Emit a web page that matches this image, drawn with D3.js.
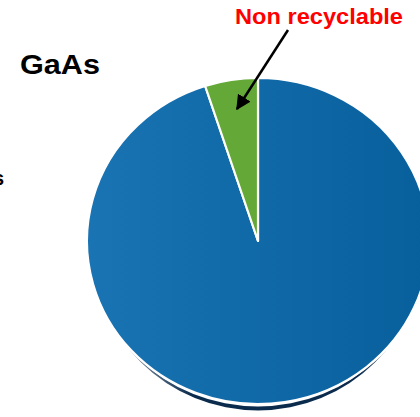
<!DOCTYPE html>
<html><head><meta charset="utf-8">
<script src="https://cdn.jsdelivr.net/npm/d3@7"></script>
<style>html,body{margin:0;padding:0;background:#fff;overflow:hidden}</style>
</head><body>
<script>
const categories = ["Recyclable", "Non recyclable"];
const values = [95, 5];
const colors = ["url(#blueGrad)", "#64a937"];
const title = "GaAs";
const annotation = "Non recyclable";

const W = 420, H = 417;
const cx = 258, cy = 241, rx = 171, ry = 163;
const svg = d3.select("body").append("svg").attr("width", W).attr("height", H);
const defs = svg.append("defs");
const g1 = defs.append("linearGradient").attr("id", "blueGrad")
  .attr("gradientUnits", "userSpaceOnUse")
  .attr("x1", -rx).attr("y1", 0).attr("x2", rx).attr("y2", 0);
g1.append("stop").attr("offset", "0%").attr("stop-color", "#1a73b2");
g1.append("stop").attr("offset", "100%").attr("stop-color", "#07609c");
const sg = defs.append("linearGradient").attr("id", "shadowGrad")
  .attr("x1", 0).attr("y1", 0).attr("x2", 1).attr("y2", 0);
sg.append("stop").attr("offset", "0%").attr("stop-color", "#0a2b4c").attr("stop-opacity", 0.2);
sg.append("stop").attr("offset", "30%").attr("stop-color", "#0a2b4c").attr("stop-opacity", 1);
sg.append("stop").attr("offset", "80%").attr("stop-color", "#0a2b4c").attr("stop-opacity", 1);
sg.append("stop").attr("offset", "100%").attr("stop-color", "#0a2b4c").attr("stop-opacity", 0.3);
const mk = defs.append("marker").attr("id", "arrow").attr("viewBox", "0 0 10 10")
  .attr("refX", 9).attr("refY", 5).attr("markerWidth", 6).attr("markerHeight", 6)
  .attr("markerUnits", "strokeWidth").attr("orient", "auto");
mk.append("path").attr("d", "M0,0 L10,5 L0,10 z").attr("fill", "#000");

// shadow
svg.append("ellipse").attr("cx", cx).attr("cy", cy + 6.5).attr("rx", rx - 6).attr("ry", ry)
  .attr("fill", "url(#shadowGrad)");
svg.append("ellipse").attr("cx", cx).attr("cy", cy + 2.5).attr("rx", rx - 2).attr("ry", ry)
  .attr("fill", "#fff");

const pie = d3.pie().sort(null).value(d => d)(values);
const arc = d3.arc().innerRadius(0).outerRadius(rx);
const pg = svg.append("g").attr("transform", `translate(${cx},${cy}) scale(1,${ry / rx})`);
pg.selectAll("path").data(pie).join("path")
  .attr("d", arc)
  .attr("fill", (d, i) => colors[i])
  .attr("stroke", "#fff").attr("stroke-width", 2.2)
  .attr("stroke-linejoin", "round");

const FF = "'Liberation Sans', Arial, Helvetica, sans-serif";
// title
svg.append("text").attr("x", 20).attr("y", 74).text(title)
  .attr("font-family", FF).attr("font-weight", "bold")
  .attr("font-size", 27).attr("fill", "#000")
  .attr("textLength", 80).attr("lengthAdjust", "spacingAndGlyphs");
// cut-off label at left edge
svg.append("text").attr("x", 4).attr("y", 185).attr("text-anchor", "end").text("s")
  .attr("font-family", FF).attr("font-weight", "bold")
  .attr("font-size", 20).attr("fill", "#000");
// annotation
svg.append("text").attr("x", 235).attr("y", 24).text(annotation)
  .attr("font-family", FF).attr("font-weight", "bold")
  .attr("font-size", 22.5).attr("fill", "#ff0000")
  .attr("textLength", 168).attr("lengthAdjust", "spacingAndGlyphs");
svg.append("line").attr("x1", 288).attr("y1", 30).attr("x2", 237).attr("y2", 109)
  .attr("stroke", "#000").attr("stroke-width", 2.5).attr("marker-end", "url(#arrow)");
</script>
</body></html>
